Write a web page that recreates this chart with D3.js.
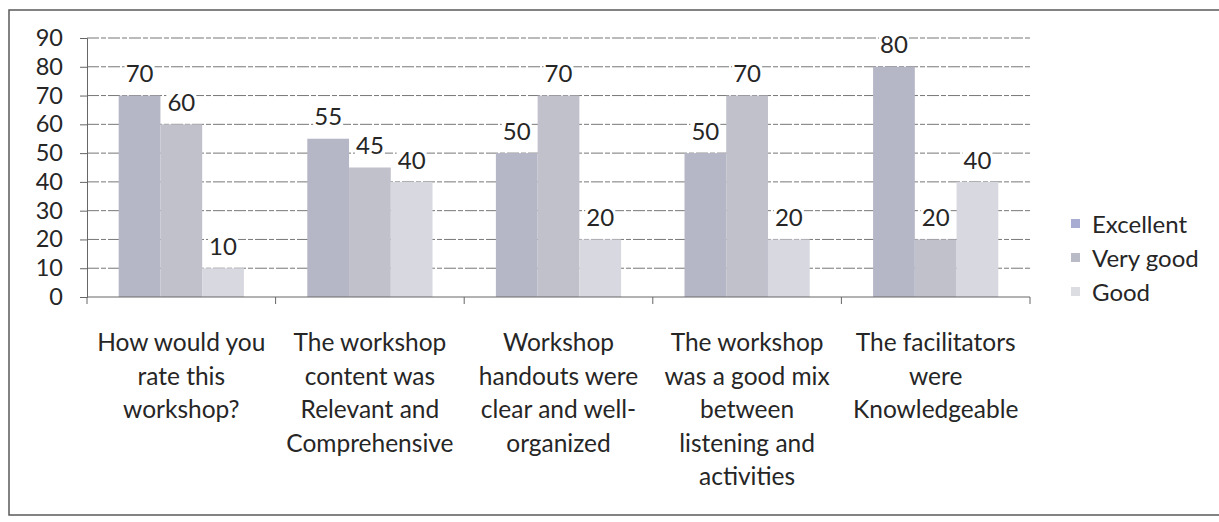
<!DOCTYPE html>
<html>
<head>
<meta charset="utf-8">
<script src="https://cdn.jsdelivr.net/npm/d3@7"></script>
<style>
  html, body { margin: 0; padding: 0; background: #fff; }
  text { font-family: Lato, "Open Sans", sans-serif; fill: #262626; }
</style>
</head>
<body>
<div id="chart"></div>
<script>
// chart data
const categories = [
    "How would you rate this workshop?",
    "The workshop content was Relevant and Comprehensive",
    "Workshop handouts were clear and well-organized",
    "The workshop was a good mix between listening and activities",
    "The facilitators were Knowledgeable"
]
const categoryLines = [
    ["How would you", "rate this", "workshop?"],
    ["The workshop", "content was", "Relevant and", "Comprehensive"],
    ["Workshop", "handouts were", "clear and well-", "organized"],
    ["The workshop", "was a good mix", "between", "listening and", "activities"],
    ["The facilitators", "were", "Knowledgeable"]
]
const seriesNames = ["Excellent", "Very good", "Good"]
const excellent = [70, 55, 50, 50, 80]
const veryGood = [60, 45, 70, 70, 20]
const good = [10, 40, 20, 20, 40]
const yTicks = [0, 10, 20, 30, 40, 50, 60, 70, 80, 90]

const seriesValues = [excellent, veryGood, good]
const barColors = ["#b5b7c7", "#c0c1cb", "#d7d8e0"]
const keyColors = ["#a9acd2", "#b9bbc6", "#dcdde3"]

const W = 1219, H = 522
const plotL = 87, plotR = 1030, plotT = 38, plotB = 297

draw = () => {
    const svg = d3.select("#chart")
        .append("svg")
        .attr("width", W)
        .attr("height", H)

    // scanned frame, right side runs off the page
    svg.append("rect")
        .attr("x", 9).attr("y", 10)
        .attr("width", 1240).attr("height", 505)
        .attr("fill", "none")
        .attr("stroke", "#5a5a5a")
        .attr("stroke-width", 1.5)

    const x0 = d3.scaleBand().domain(categories).range([plotL, plotR])
    const bw = x0.bandwidth()
    const x1 = d3.scaleBand().domain(seriesNames).range([bw * 0.168, bw * 0.832])
    const y = d3.scaleLinear().domain([0, 90]).range([plotB, plotT])

    // gridlines
    svg.append("g")
        .selectAll("line")
        .data(yTicks.filter(t => t > 0))
        .enter()
        .append("line")
        .attr("x1", plotL).attr("x2", plotR)
        .attr("y1", d => y(d)).attr("y2", d => y(d))
        .attr("stroke", "#777")
        .attr("stroke-width", 1)
        .attr("stroke-dasharray", "12,2,5,2")

    // left axis
    const yAxis = svg.append("g")
        .attr("transform", `translate(${plotL},0)`)
        .call(d3.axisLeft(y).tickValues(yTicks).tickSize(7).tickPadding(17))
    yAxis.select(".domain").attr("stroke", "#666")
    yAxis.selectAll(".tick line").attr("stroke", "#666")
    yAxis.selectAll("text")
        .style("font-size", "23.5px")
        .attr("fill", "#262626")

    // bars
    const rows = []
    categories.forEach((c, i) => {
        seriesNames.forEach((s, j) => {
            rows.push({c, s, j, v: seriesValues[j][i]})
        })
    })

    svg.append("g")
        .selectAll("rect")
        .data(rows)
        .enter()
        .append("rect")
        .attr("x", d => x0(d.c) + x1(d.s))
        .attr("y", d => y(d.v))
        .attr("width", x1.bandwidth())
        .attr("height", d => y(0) - y(d.v))
        .attr("fill", d => barColors[d.j])

    // bottom axis
    const xAxis = svg.append("g")
    xAxis.append("line")
        .attr("x1", plotL).attr("x2", plotR)
        .attr("y1", plotB).attr("y2", plotB)
        .attr("stroke", "#666")
    const bounds = categories.map(c => x0(c)).concat([plotR])
    xAxis.selectAll(".tk")
        .data(bounds)
        .enter()
        .append("line")
        .attr("x1", d => d).attr("x2", d => d)
        .attr("y1", plotB).attr("y2", plotB + 7)
        .attr("stroke", "#666")

    // value labels with white box
    const labels = svg.append("g")
        .selectAll("g")
        .data(rows)
        .enter()
        .append("g")
        .attr("transform", d => `translate(${x0(d.c) + x1(d.s) + x1.bandwidth() / 2},${y(d.v) - 22})`)
    labels.append("rect")
        .attr("x", -15).attr("y", -12)
        .attr("width", 30).attr("height", 24)
        .attr("fill", "#fff")
    labels.append("text")
        .attr("text-anchor", "middle")
        .attr("dy", "0.36em")
        .style("font-size", "24px")
        .text(d => d.v)

    // category labels
    const cats = svg.append("g")
        .selectAll("text")
        .data(categories)
        .enter()
        .append("text")
        .attr("text-anchor", "middle")
        .attr("x", d => x0(d) + bw / 2)
        .attr("y", 351)
        .style("font-size", "24.5px")
    cats.selectAll("tspan")
        .data((d, i) => categoryLines[i])
        .enter()
        .append("tspan")
        .attr("x", function () { return d3.select(this.parentNode).attr("x") })
        .attr("dy", (d, i) => i === 0 ? 0 : 33.5)
        .text(d => d)

    // legend
    const legend = svg.append("g")
        .selectAll("g")
        .data(seriesNames)
        .enter()
        .append("g")
        .attr("transform", (d, i) => `translate(1071,${224 + i * 34})`)
    legend.append("rect")
        .attr("x", 0).attr("y", -5)
        .attr("width", 9).attr("height", 9)
        .attr("fill", (d, i) => keyColors[i])
    legend.append("text")
        .attr("x", 21)
        .attr("dy", "0.36em")
        .style("font-size", "24px")
        .text(d => d)
}

draw()
</script>
</body>
</html>
